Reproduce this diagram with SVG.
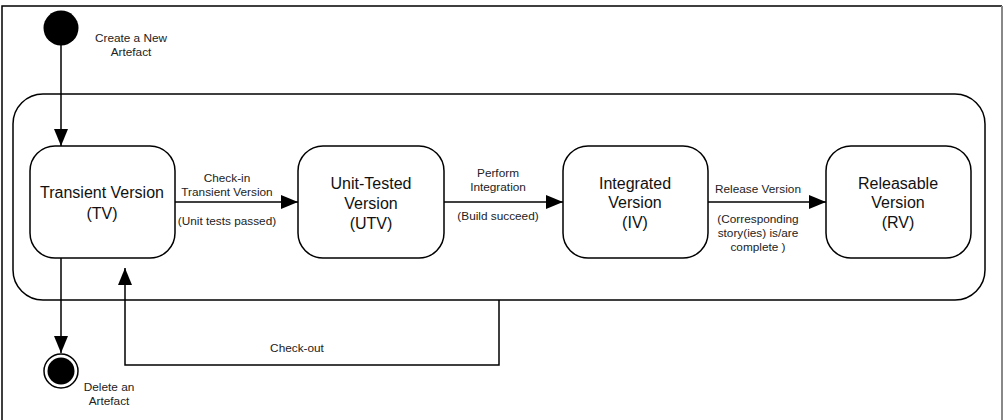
<svg xmlns="http://www.w3.org/2000/svg" width="1007" height="420" viewBox="0 0 1007 420">
<defs>
<style>
.st{fill:#fff;stroke:#000;stroke-width:1.5}
.ln{fill:none;stroke:#000;stroke-width:1.5}
.nt{font-family:"Liberation Sans",Arial,sans-serif;font-size:16px;fill:#111;text-anchor:middle}
.lb{font-family:"Liberation Sans",Arial,sans-serif;font-size:11.8px;fill:#222;text-anchor:middle}
</style>
<marker id="ah" markerWidth="17" markerHeight="14" refX="17" refY="7" orient="auto" markerUnits="userSpaceOnUse">
<path d="M0,0 L17,7 L0,14 Z" fill="#000"/>
</marker>
</defs>
<rect width="1007" height="420" fill="#fff"/>
<g id="frame">
<path d="M2,420 L2,6 L1002,6" fill="none" stroke="#000" stroke-width="1.5"/>
<line x1="1002" y1="6" x2="1002" y2="420" stroke="#888" stroke-width="2"/>
</g>
<g id="container">
<rect x="13" y="94" width="972" height="206" rx="30" ry="30" class="ln"/>
</g>
<g id="connectors">
<line x1="61" y1="45" x2="61" y2="146" class="ln" marker-end="url(#ah)"/>
<line x1="175" y1="202" x2="298" y2="202" class="ln" marker-end="url(#ah)"/>
<line x1="444" y1="202" x2="563" y2="202" class="ln" marker-end="url(#ah)"/>
<line x1="708" y1="202" x2="826" y2="202" class="ln" marker-end="url(#ah)"/>
<line x1="61" y1="258" x2="61" y2="353" class="ln" marker-end="url(#ah)"/>
<polyline points="499,300 499,365 125,365 125,268" class="ln" marker-end="url(#ah)"/>
<text class="lb" x="227" y="182">Check-in</text>
<text class="lb" x="227" y="196">Transient Version</text>
<text class="lb" x="227" y="225">(Unit tests passed)</text>
<text class="lb" x="498" y="177">Perform</text>
<text class="lb" x="498" y="191">Integration</text>
<text class="lb" x="498" y="220">(Build succeed)</text>
<text class="lb" x="758" y="193">Release Version</text>
<text class="lb" x="758" y="223">(Corresponding</text>
<text class="lb" x="758" y="237">story(ies) is/are</text>
<text class="lb" x="758" y="251">complete )</text>
<text class="lb" x="297" y="352">Check-out</text>
</g>
<g id="initial">
<circle cx="61" cy="28" r="17.5" fill="#000"/>
<text class="lb" x="131" y="42">Create a New</text>
<text class="lb" x="131" y="56">Artefact</text>
</g>
<g id="final">
<circle cx="61" cy="371" r="17" fill="#fff" stroke="#000" stroke-width="1.5"/>
<circle cx="61" cy="371" r="13.5" fill="#000"/>
<text class="lb" x="109" y="391">Delete an</text>
<text class="lb" x="109" y="405">Artefact</text>
</g>
<g id="tv">
<rect x="30" y="146" width="145" height="112" rx="25" ry="25" class="st"/>
<text class="nt" x="102" y="198">Transient Version</text>
<text class="nt" x="102" y="219">(TV)</text>
</g>
<g id="utv">
<rect x="298" y="146" width="146" height="112" rx="25" ry="25" class="st"/>
<text class="nt" x="371" y="189">Unit-Tested</text>
<text class="nt" x="371" y="209">Version</text>
<text class="nt" x="371" y="229">(UTV)</text>
</g>
<g id="iv">
<rect x="563" y="146" width="145" height="112" rx="25" ry="25" class="st"/>
<text class="nt" x="635" y="189">Integrated</text>
<text class="nt" x="635" y="208">Version</text>
<text class="nt" x="635" y="228">(IV)</text>
</g>
<g id="rv">
<rect x="826" y="146" width="145" height="112" rx="25" ry="25" class="st"/>
<text class="nt" x="898" y="189">Releasable</text>
<text class="nt" x="898" y="208">Version</text>
<text class="nt" x="898" y="228">(RV)</text>
</g>
</svg>
